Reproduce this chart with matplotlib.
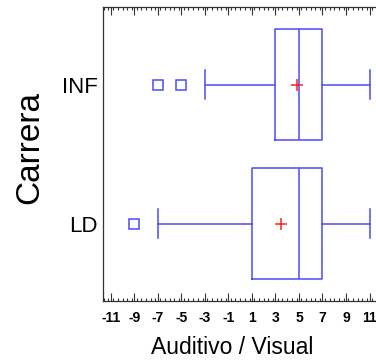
import matplotlib
matplotlib.use('Agg')
import matplotlib.pyplot as plt
from matplotlib.ticker import MultipleLocator

plt.rcParams['font.family'] = ['Liberation Sans', 'DejaVu Sans']
plt.rcParams['axes.unicode_minus'] = False

# datos
carreras = ['LD', 'INF']
q1 = [1, 3]
mediana = [5, 5]
q3 = [7, 7]
bigote_inf = [-7, -3]
bigote_sup = [11, 11]
media = [3.5, 4.8]
atipicos = [[-9], [-7, -5]]
xticks = list(range(-11, 12, 2))

AZUL = '#4a4aff'
ROJO = '#ff2020'

stats = []
for i, c in enumerate(carreras):
    stats.append({'label': c, 'q1': q1[i], 'med': mediana[i], 'q3': q3[i],
                  'whislo': bigote_inf[i], 'whishi': bigote_sup[i],
                  'mean': media[i], 'fliers': atipicos[i]})

fig = plt.figure(figsize=(3.76, 3.6), dpi=100)
ax = fig.add_axes([103 / 376, 1 - 301 / 360, 273 / 376, 294 / 360])

lp = dict(color=AZUL, linewidth=1.1)
ax.bxp(stats, positions=[0, 1], widths=0.8, capwidths=0.21,
       orientation='horizontal', showmeans=True, manage_ticks=False,
       boxprops=lp, whiskerprops=lp, capprops=lp, medianprops=lp,
       meanprops=dict(marker='+', markeredgecolor=ROJO, markersize=8,
                      markeredgewidth=1.1),
       flierprops=dict(marker='s', markerfacecolor='none',
                       markeredgecolor=AZUL, markersize=6.5,
                       markeredgewidth=1.1))

ax.set_xlim(-11.66, 11.55)
ax.set_ylim(-0.555, 1.56)
ax.set_yticks([0, 1])
ax.set_yticklabels(carreras, fontsize=16)
ax.tick_params(axis='y', length=0, pad=4)

ax.set_xticks(xticks)
ax.xaxis.set_minor_locator(MultipleLocator(0.4))
ax.tick_params(axis='x', which='both', direction='in', top=True,
               labelsize=10, pad=7, width=0.8, color='#333333')
ax.tick_params(axis='x', which='major', length=6)
ax.tick_params(axis='x', which='minor', length=2.5)
for lab in ax.get_xticklabels():
    lab.set_fontweight('bold')

for s in ax.spines.values():
    s.set_linewidth(0.9)
    s.set_color('#333333')
ax.spines['right'].set_visible(False)

ax.set_xlabel('Auditivo / Visual', fontsize=16.5)
ax.xaxis.set_label_coords((232 - 103) / 273, (301 - 347) / 294)
ax.xaxis.label.set_va('center')
ax.set_ylabel('Carrera', fontsize=24)
ax.yaxis.set_label_coords((30 - 103) / 273, (301 - 148) / 294)
ax.yaxis.label.set_va('center')

fig.savefig('out.png', dpi=100)
